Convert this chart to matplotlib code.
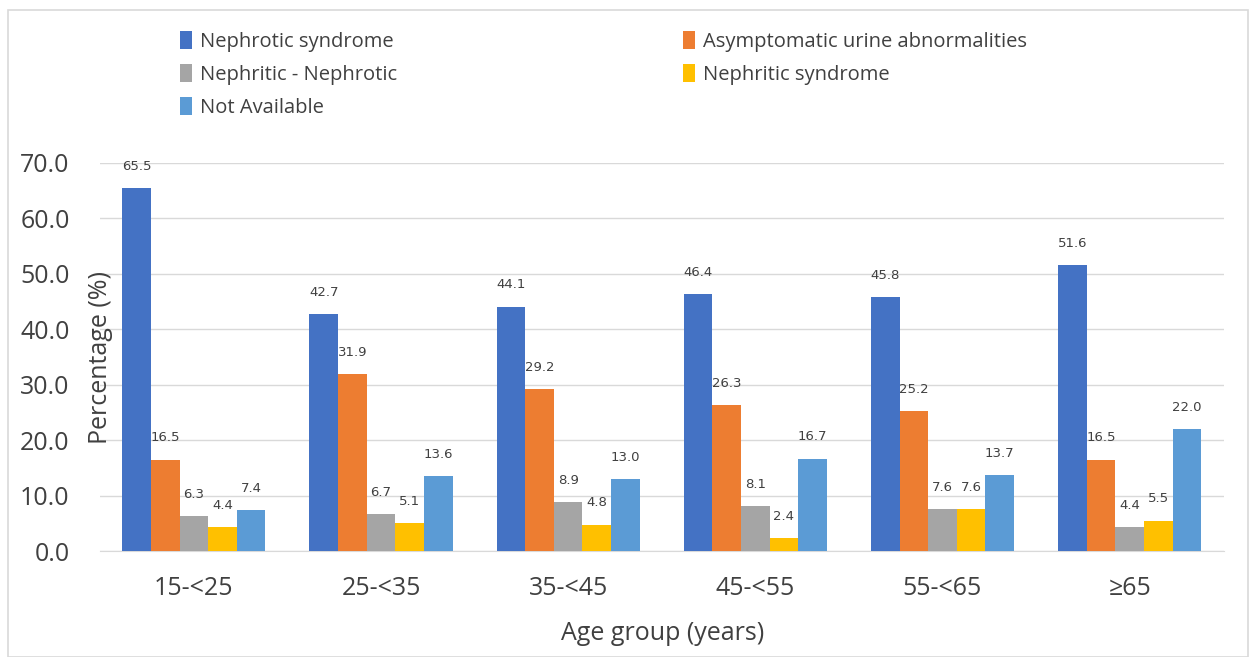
import numpy as np
import matplotlib
matplotlib.use("Agg")
from matplotlib import pyplot as plt
from matplotlib.patches import Rectangle

plt.rcParams['font.family'] = ['Open Sans', 'DejaVu Sans']

# Data
age_groups = ["15-<25", "25-<35", "35-<45", "45-<55", "55-<65", "≥65"]
nephrotic = [65.5, 42.7, 44.1, 46.4, 45.8, 51.6]
asymptomatic = [16.5, 31.9, 29.2, 26.3, 25.2, 16.5]
nephritic_nephrotic = [6.3, 6.7, 8.9, 8.1, 7.6, 4.4]
nephritic = [4.4, 5.1, 4.8, 2.4, 7.6, 5.5]
not_available = [7.4, 13.6, 13.0, 16.7, 13.7, 22.0]

series = [
    ("Nephrotic syndrome", nephrotic, "#4472C4"),
    ("Asymptomatic urine abnormalities", asymptomatic, "#ED7D31"),
    ("Nephritic - Nephrotic", nephritic_nephrotic, "#A5A5A5"),
    ("Nephritic syndrome", nephritic, "#FFC000"),
    ("Not Available", not_available, "#5B9BD5"),
]

fig = plt.figure(figsize=(12.53, 6.57), dpi=100)
ax = fig.add_axes([0.08, 0.161, 0.897, 0.591])

x = np.arange(len(age_groups))
width = 0.153
bars = {}
for i, (name, vals, color) in enumerate(series):
    offs = (i - 2) * width
    b = ax.bar(x + offs, vals, width, color=color, label=name, zorder=3)
    bars[name] = b
    for xi, v in zip(x + offs, vals):
        ax.annotate(f"{v:.1f}", (xi, v), xytext=(0, 11), textcoords="offset points",
                    ha="center", va="bottom", fontsize=9.5, color="#404040",
                    family=["DejaVu Sans"], annotation_clip=False)

ax.set_xlim(-0.5, 5.505)
ax.set_ylim(0, 70)
ax.set_yticks(np.arange(0, 71, 10))
ax.set_yticklabels([f"{t:.1f}" for t in np.arange(0, 71, 10)])
ax.set_xticks(x)
ax.set_xticklabels(age_groups)
ax.tick_params(axis="both", length=0, colors="#404040")
ax.tick_params(axis="y", labelsize=18, pad=22)
ax.tick_params(axis="x", labelsize=18, pad=18)
ax.grid(axis="y", color="#D9D9D9", linewidth=1, zorder=0)
for s in ["top", "right", "left"]:
    ax.spines[s].set_visible(False)
ax.spines["bottom"].set_color("#D9D9D9")

ax.set_ylabel("Percentage (%)", fontsize=18, color="#404040")
ax.yaxis.set_label_coords(0.011, 0.5)
ax.set_xlabel("Age group (years)", fontsize=18, color="#404040", labelpad=14)

order = [0, 2, 4, 1, 3]
handles = [bars[series[k][0]] for k in order]
labels = [series[k][0] for k in order]
fig.legend(handles, labels, ncol=2, loc="upper left", bbox_to_anchor=(0.129, 0.98),
           frameon=False, fontsize=14.5, handlelength=0.6, handleheight=1.0,
           handletextpad=0.4, columnspacing=14.2, labelspacing=0.6,
           labelcolor="#404040")

fig.patches.append(Rectangle((0.006, 0.0), 0.99, 0.985, transform=fig.transFigure,
                             fill=False, edgecolor="#D9D9D9", linewidth=1.2))

fig.savefig("out.png", dpi=100)
